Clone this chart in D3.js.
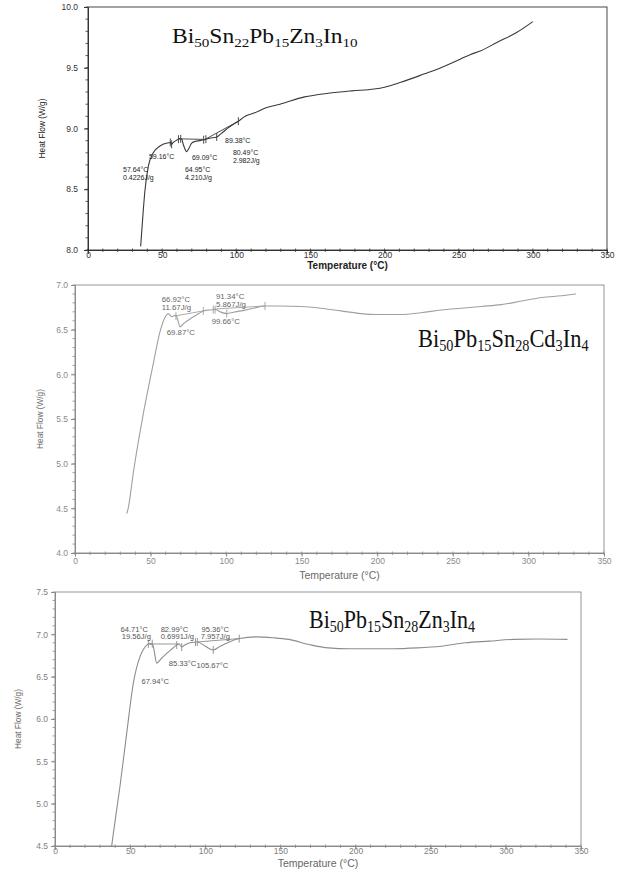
<!DOCTYPE html>
<html>
<head>
<meta charset="utf-8">
<script src="https://cdn.jsdelivr.net/npm/d3@7"></script>
<style>
  body { margin: 0; background: #fff; }
</style>
</head>
<body>
<svg id="chart" width="627" height="873"></svg>
<script>
// ---- panel 1 : Bi50Sn22Pb15Zn3In10 ----
var p1Title = [["Bi", "50"], ["Sn", "22"], ["Pb", "15"], ["Zn", "3"], ["In", "10"]];
var p1Temp = [35.5, 37.3, 38.4, 40.7, 44, 48.5, 54.2, 55.5, 56.4, 57.5, 60, 61.4, 63, 64.5, 66.5, 68, 69.9, 72.5, 75.5, 78.9, 82, 86.8, 90, 95, 101.4, 106, 111.5, 120, 129.5, 146, 162, 178, 193, 200, 211, 227, 238, 251, 258, 265, 276, 289, 300];
var p1Flow = [8.03, 8.33, 8.49, 8.69, 8.80, 8.856, 8.883, 8.885, 8.87, 8.885, 8.905, 8.915, 8.915, 8.86, 8.81, 8.835, 8.88, 8.895, 8.90, 8.91, 8.92, 8.93, 8.96, 9.01, 9.06, 9.10, 9.125, 9.17, 9.20, 9.26, 9.29, 9.31, 9.325, 9.34, 9.38, 9.45, 9.50, 9.57, 9.61, 9.64, 9.71, 9.79, 9.88];
var p1Marks = [55.5, 56.4, 61, 62.5, 78, 79.5, 86.8, 101.4];
var p1Bases = [[[61.4, 8.915], [78.9, 8.91]], [[78.9, 8.91], [101.4, 9.06]]];
var p1Notes = [[23.6, 8.638, "57.64°C"], [23.6, 8.576, "0.4226J/g"], [41.1, 8.753, "59.16°C"], [70.1, 8.742, "69.09°C"],
               [65.4, 8.638, "64.95°C"], [65.4, 8.576, "4.210J/g"], [92.4, 8.881, "89.38°C"], [97.7, 8.785, "80.49°C"], [97.7, 8.72, "2.982J/g"]];
var p1YTicks = [8.0, 8.5, 9.0, 9.5, 10.0];

// ---- panel 2 : Bi50Pb15Sn28Cd3In4 ----
var p2Title = [["Bi", "50"], ["Pb", "15"], ["Sn", "28"], ["Cd", "3"], ["In", "4"]];
var p2Temp = [34.2, 35.2, 38.6, 45.2, 51.8, 56.3, 59.6, 61.7, 64, 66.2, 67.5, 69.5, 72, 77, 82, 85, 89, 92.7, 96, 100.4, 105, 110, 118, 125.7, 136, 149.5, 162.8, 176, 189.3, 200, 216, 229, 242.4, 255.7, 269, 282, 295.5, 309, 322, 331.4];
var p2Flow = [4.44, 4.50, 4.90, 5.56, 6.12, 6.48, 6.64, 6.68, 6.645, 6.66, 6.64, 6.53, 6.57, 6.63, 6.68, 6.71, 6.72, 6.725, 6.70, 6.68, 6.695, 6.71, 6.74, 6.765, 6.765, 6.76, 6.74, 6.71, 6.68, 6.67, 6.67, 6.69, 6.72, 6.74, 6.76, 6.78, 6.82, 6.86, 6.88, 6.90];
var p2Marks = [66.8, 84.9, 91.5, 92.7, 100.4, 125.7];
var p2Bases = [[[66.8, 6.655], [84.9, 6.71]], [[91.5, 6.73], [125.7, 6.765]]];
var p2Notes = [[57.4, 6.815, "66.92°C"], [57.4, 6.72, "11.67J/g"], [60.7, 6.44, "69.87°C"],
               [93.3, 6.845, "91.34°C"], [93.3, 6.75, "5.867J/g"], [90.4, 6.56, "99.66°C"]];
var p2YTicks = [4.0, 4.5, 5.0, 5.5, 6.0, 6.5, 7.0];

// ---- panel 3 : Bi50Pb15Sn28Zn3In4 ----
var p3Title = [["Bi", "50"], ["Pb", "15"], ["Sn", "28"], ["Zn", "3"], ["In", "4"]];
var p3Temp = [37.7, 40, 43.2, 47.7, 52.1, 56.6, 59.9, 62.1, 64.7, 65.5, 67.7, 70.5, 74.3, 78, 81, 82.7, 84.3, 86, 89.8, 94.7, 100, 105.3, 110, 116, 122.6, 134.2, 145, 155.6, 169, 182, 195.7, 209, 225, 241, 257, 273, 289, 305, 321, 341];
var p3Flow = [4.5, 4.8, 5.2, 5.83, 6.42, 6.74, 6.85, 6.886, 6.89, 6.85, 6.66, 6.71, 6.775, 6.83, 6.874, 6.886, 6.85, 6.87, 6.90, 6.91, 6.86, 6.815, 6.86, 6.91, 6.95, 6.97, 6.96, 6.94, 6.88, 6.84, 6.83, 6.83, 6.83, 6.84, 6.86, 6.90, 6.92, 6.94, 6.945, 6.94];
var p3Marks = [62.1, 64.7, 81, 84.3, 93.5, 94.7, 105.3, 122.6];
var p3Bases = [[[62.1, 6.886], [82.7, 6.886]], [[94.7, 6.91], [122.6, 6.95]]];
var p3Notes = [[43.6, 7.027, "64.71°C"], [44.4, 6.94, "19.56J/g"], [70.3, 7.027, "82.99°C"], [70.3, 6.94, "0.6991J/g"],
               [97.5, 7.027, "95.36°C"], [97.0, 6.94, "7.957J/g"], [75.7, 6.63, "85.33°C"], [94.2, 6.60, "105.67°C"], [57.5, 6.41, "67.94°C"]];
var p3YTicks = [4.5, 5.0, 5.5, 6.0, 6.5, 7.0, 7.5];

var xTicks = [0, 50, 100, 150, 200, 250, 300, 350];

var svg = d3.select("#chart");

function drawPanel(c) {
    var g = svg.append("g");
    var x = d3.scaleLinear().domain([0, 350]).range(c.xr);
    var y = d3.scaleLinear().domain(c.yd).range(c.yr);
    var flowAt = d3.scaleLinear().domain(c.temp).range(c.flow);

    // frame
    g.append("rect")
        .attr("x", x(0)).attr("y", y(c.yd[1]))
        .attr("width", x(350) - x(0)).attr("height", y(c.yd[0]) - y(c.yd[1]))
        .attr("fill", "none").attr("stroke", c.axisColor).attr("stroke-width", 0.9);

    // minor ticks
    g.append("g").selectAll("line").data(d3.range(0, 351, 10))
        .join("line")
        .attr("x1", d => x(d)).attr("x2", d => x(d))
        .attr("y1", y(c.yd[0]) - 1.5).attr("y2", y(c.yd[0]) + 2)
        .attr("stroke", c.axisColor).attr("stroke-width", 0.8);
    g.append("g").selectAll("line").data(d3.range(c.yd[0], c.yd[1] + 0.01, 0.1))
        .join("line")
        .attr("y1", d => y(d)).attr("y2", d => y(d))
        .attr("x1", x(0) - 2.5).attr("x2", x(0))
        .attr("stroke", c.axisColor).attr("stroke-width", 0.8);

    // x axis
    var xa = g.append("g")
        .attr("transform", `translate(0,${y(c.yd[0])})`)
        .call(d3.axisBottom(x).tickValues(xTicks).tickSize(3.5).tickFormat(d3.format("d")));
    xa.selectAll(".tick text").attr("y", c.xTextY);
    // y axis
    var ya = g.append("g")
        .attr("transform", `translate(${x(0)},0)`)
        .call(d3.axisLeft(y).tickValues(c.yTicks).tickSize(4).tickPadding(c.yPad).tickFormat(d3.format(".1f")));
    [xa, ya].forEach(a => {
        a.select(".domain").attr("stroke", c.axisColor);
        a.selectAll(".tick line").attr("stroke", c.axisColor);
        a.selectAll(".tick text")
            .attr("fill", c.tickColor)
            .style("font-family", "'Liberation Sans', Arial, sans-serif")
            .style("font-size", c.tickSize + "px");
    });

    // axis titles
    g.append("text")
        .attr("x", (c.xr[0] + c.xr[1]) / 2).attr("y", c.xLabY)
        .attr("text-anchor", "middle")
        .attr("fill", c.labColor)
        .style("font-family", "'Liberation Sans', Arial, sans-serif")
        .style("font-size", c.xLabSize + "px")
        .style("font-weight", c.xLabBold ? "bold" : "normal")
        .text("Temperature (°C)");
    g.append("text")
        .attr("transform", `translate(${c.yLabX},${(c.yr[0] + c.yr[1]) / 2}) rotate(-90)`)
        .attr("text-anchor", "middle")
        .attr("dy", "0.35em")
        .attr("fill", c.labColor)
        .style("font-family", "'Liberation Sans', Arial, sans-serif")
        .style("font-size", "8.3px")
        .text("Heat Flow (W/g)");

    // integration baselines
    g.append("g").selectAll("line").data(c.bases)
        .join("line")
        .attr("x1", d => x(d[0][0])).attr("y1", d => y(d[0][1]))
        .attr("x2", d => x(d[1][0])).attr("y2", d => y(d[1][1]))
        .attr("stroke", c.lineColor).attr("stroke-width", 0.9);

    // curve
    var line = d3.line()
        .x(d => x(d[0]))
        .y(d => y(d[1]))
        .curve(d3.curveMonotoneX);
    g.append("path")
        .datum(d3.zip(c.temp, c.flow))
        .attr("fill", "none")
        .attr("stroke", c.lineColor)
        .attr("stroke-width", 1.1)
        .attr("stroke-linejoin", "round")
        .attr("d", line);

    // analysis marks
    g.append("g").selectAll("line").data(c.marks)
        .join("line")
        .attr("x1", d => x(d)).attr("x2", d => x(d))
        .attr("y1", d => y(flowAt(d)) - 4).attr("y2", d => y(flowAt(d)) + 4)
        .attr("stroke", c.lineColor).attr("stroke-width", 0.9);

    // annotations
    g.append("g").selectAll("text").data(c.notes)
        .join("text")
        .attr("x", d => x(d[0])).attr("y", d => y(d[1]))
        .attr("fill", c.noteColor)
        .style("font-family", "'Liberation Sans', Arial, sans-serif")
        .style("font-size", c.noteSize + "px")
        .text(d => d[2]);

    // alloy title (element + subscript count)
    var t = g.append("text")
        .attr("transform", `translate(${c.titleX},${c.titleY}) scale(${c.titleSx},${c.titleSy})`)
        .attr("fill", "#111")
        .style("font-family", "'Liberation Serif', 'Times New Roman', serif")
        .style("font-size", c.titleSize + "px");
    c.title.forEach(p => {
        t.append("tspan").attr("y", 0).text(p[0]);
        t.append("tspan").attr("y", 3.5).style("font-size", c.subSize + "px").text(p[1]);
    });
}

drawPanel({
    title: p1Title, temp: p1Temp, flow: p1Flow, marks: p1Marks, bases: p1Bases, notes: p1Notes, yTicks: p1YTicks,
    xr: [88, 607], yd: [8, 10], yr: [250, 7],
    axisColor: "#333", tickColor: "#333", labColor: "#222", lineColor: "#3a3a3a", noteColor: "#222",
    tickSize: 8.5, xTextY: 1.5, yPad: 6, noteSize: 7,
    xLabY: 268.5, xLabSize: 10, xLabBold: true, yLabX: 42,
    titleX: 172, titleY: 43, titleSize: 21, subSize: 13.5, titleSx: 1.12, titleSy: 1
});

drawPanel({
    title: p2Title, temp: p2Temp, flow: p2Flow, marks: p2Marks, bases: p2Bases, notes: p2Notes, yTicks: p2YTicks,
    xr: [75, 604], yd: [4, 7], yr: [553, 285],
    axisColor: "#8a8a8a", tickColor: "#8a8a8a", labColor: "#6a6a6a", lineColor: "#a0a0a0", noteColor: "#666",
    tickSize: 8.5, xTextY: 5, yPad: 3, noteSize: 7.8,
    xLabY: 579, xLabSize: 10.5, xLabBold: false, yLabX: 40,
    titleX: 418, titleY: 347, titleSize: 22, subSize: 14, titleSx: 1.02, titleSy: 1.15
});

drawPanel({
    title: p3Title, temp: p3Temp, flow: p3Flow, marks: p3Marks, bases: p3Bases, notes: p3Notes, yTicks: p3YTicks,
    xr: [55, 581], yd: [4.5, 7.5], yr: [846, 592],
    axisColor: "#8a8a8a", tickColor: "#808080", labColor: "#666", lineColor: "#8c8c8c", noteColor: "#555",
    tickSize: 8.5, xTextY: 2, yPad: 3, noteSize: 7.6,
    xLabY: 867, xLabSize: 10.5, xLabBold: false, yLabX: 18,
    titleX: 309, titleY: 628, titleSize: 22, subSize: 14, titleSx: 1, titleSy: 1.15
});
</script>
</body>
</html>
